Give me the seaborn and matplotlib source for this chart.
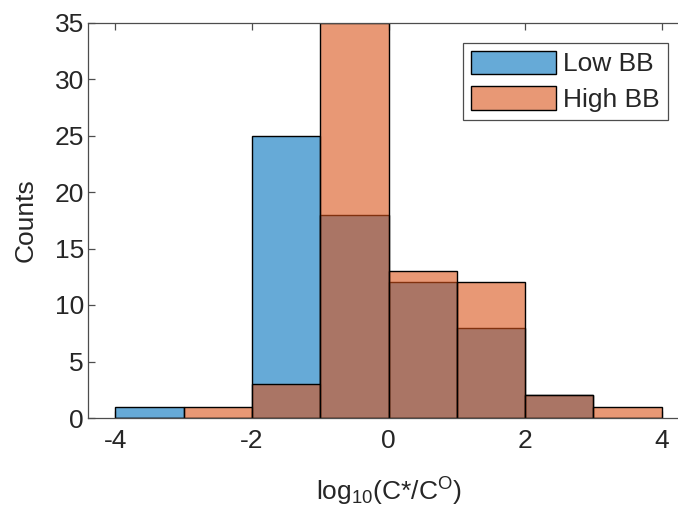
import matplotlib
matplotlib.use("Agg")
import matplotlib.pyplot as plt
import seaborn as sns
import numpy as np
import pandas as pd

# Data
bin_edges = [-4, -3, -2, -1, 0, 1, 2, 3, 4]
bin_centers = [-3.5, -2.5, -1.5, -0.5, 0.5, 1.5, 2.5, 3.5]
low_bb_counts = [1, 0, 25, 18, 12, 8, 2, 0]
high_bb_counts = [0, 1, 3, 35, 13, 12, 2, 1]
series_names = ["Low BB", "High BB"]
x_ticks = [-4, -2, 0, 2, 4]
y_ticks = [0, 5, 10, 15, 20, 25, 30, 35]

sns.set_style("white")
plt.rcParams['font.family'] = ['Liberation Sans', 'DejaVu Sans']
plt.rcParams['mathtext.default'] = 'regular'

W, H = 678, 514
fig = plt.figure(figsize=(W / 100, H / 100), dpi=100)
left, right, top, bottom = 88, 689, 22.5, 418
ax = fig.add_axes([left / W, 1 - bottom / H, (right - left) / W, (bottom - top) / H])

colors = [(0.0, 0.447, 0.741), (0.85, 0.325, 0.098)]
df_low = pd.DataFrame({"x": bin_centers, "w": low_bb_counts})
df_high = pd.DataFrame({"x": bin_centers, "w": high_bb_counts})

n_before = 0
for df, c, name in [(df_low, colors[0], series_names[0]), (df_high, colors[1], series_names[1])]:
    sns.histplot(data=df, x="x", weights="w", bins=bin_edges, ax=ax, color=c,
                 element="bars", stat="count", label=name, linewidth=1.0)
    for p in ax.patches[n_before:]:
        p.set_alpha(None)
        p.set_facecolor((*c, 0.6))
        p.set_edgecolor((0, 0, 0, 1))
        p.set_linewidth(1.0)
    n_before = len(ax.patches)

ax.set_xlim(-4.4, 4.4)
ax.set_ylim(0, 35)
ax.set_xticks(x_ticks)
ax.set_xticklabels([str(t) for t in x_ticks])
ax.set_yticks(y_ticks)
ax.set_yticklabels([str(t) for t in y_ticks])

axis_col = '#4d4d4d'
for s in ax.spines.values():
    s.set_visible(True)
    s.set_color(axis_col)
    s.set_linewidth(0.9)
ax.tick_params(axis='both', direction='in', length=5, width=0.9, color=axis_col,
               labelsize=19, labelcolor='#262626', top=True, right=True,
               bottom=True, left=True)
ax.tick_params(axis='x', pad=8)
ax.tick_params(axis='y', pad=3)

ax.set_xlabel(r'log$_{10}$(C*/C$^{O}$)', fontsize=19, color='#262626', labelpad=16)
ax.set_ylabel('Counts', fontsize=19, color='#262626', labelpad=12)

from matplotlib.patches import Patch
handles = [Patch(facecolor=(*colors[i], 0.6), edgecolor='black', linewidth=1.0) for i in range(2)]
leg = ax.legend(handles, series_names, loc='upper right',
                bbox_to_anchor=(668 / W, 1 - 42.7 / H), bbox_transform=fig.transFigure,
                borderaxespad=0, fontsize=19, handlelength=3.2, handleheight=1.0,
                handletextpad=0.3, labelspacing=0.38, borderpad=0.3,
                fancybox=False, framealpha=1, edgecolor=axis_col)
leg.get_frame().set_linewidth(0.9)

fig.savefig("out.png", dpi=100)
